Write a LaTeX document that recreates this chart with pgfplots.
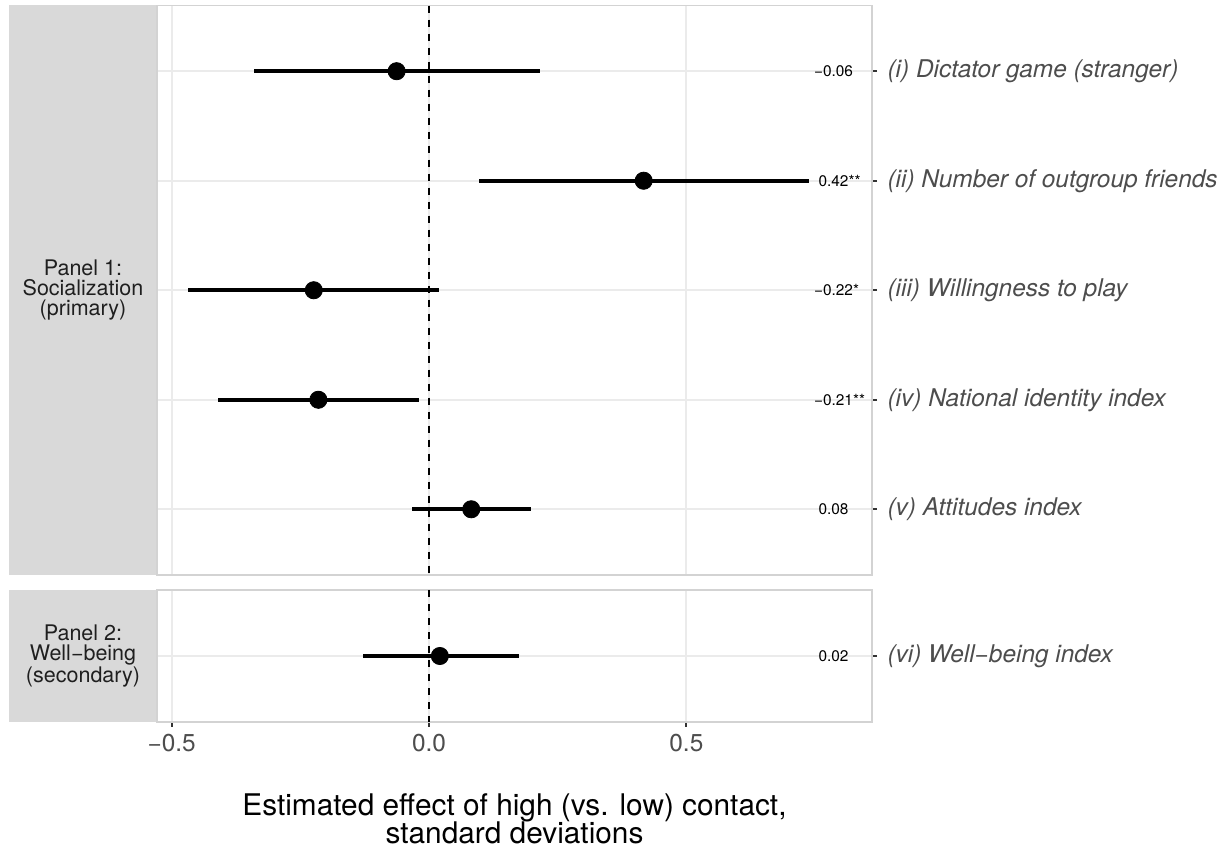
\documentclass[border=0pt]{standalone}
\usepackage{fontspec}
\setmainfont{TeX Gyre Heros}
\usepackage{pgfplots}
\usepackage{pgfplotstable}
\pgfplotsset{compat=1.18}
\definecolor{gridc}{HTML}{EBEBEB}
\definecolor{borderc}{HTML}{D3D3D3}
\definecolor{stripc}{HTML}{D9D9D9}
\definecolor{labc}{HTML}{4D4D4D}
\definecolor{tickc}{HTML}{333333}

\pgfplotstableread{
y est lo hi
1 -0.063 -0.340 0.216
2 0.417 0.098 0.738
3 -0.224 -0.468 0.020
4 -0.215 -0.411 -0.019
5 0.082 -0.034 0.198
}\panelone
\pgfplotstableread{
y est lo hi
1 0.021 -0.129 0.174
}\paneltwo

\pgfplotsset{
  panel/.style={
    scale only axis, width=357.5pt,
    xmin=-0.5286, xmax=0.8607,
    y dir=reverse,
    axis line style={draw=borderc, line width=0.9pt},
    xmajorgrids, ymajorgrids,
    major grid style={draw=gridc, line width=1pt},
    xtick={-0.5,0,0.5},
    ytick pos=right, yticklabel pos=right,
    tick align=outside,
    major tick length=2.6pt,
    major tick style={draw=tickc, line width=1pt},
    yticklabel style={font=\fontsize{12.2}{14}\selectfont\itshape, text=labc, anchor=west, inner sep=0pt, xshift=5pt},
    clip=false,
  },
  ci/.style={draw=none, mark=*, mark size=4.3pt, mark options={fill=black, draw=black},
    error bars/.cd, x dir=both, x explicit, error mark=none,
    error bar style={line width=2pt, black}},
}

\newcommand{\vl}[1]{{\fontsize{7.7}{9}\selectfont #1}}

\begin{document}
\begin{tikzpicture}
\path[use as bounding box] (0,0) rectangle (614pt,429pt);
% strips
\fill[stripc] (4.5pt,426.25pt) rectangle (78.5pt,141.5pt);
\fill[stripc] (4.5pt,133.85pt) rectangle (78.5pt,68.15pt);
\node[align=center, font=\fontsize{10.75}{10}\selectfont, text=black!88] at (41.5pt,284pt) {Panel 1:\\Socialization\\(primary)};
\node[align=center, font=\fontsize{10.75}{10}\selectfont, text=black!88] at (41.5pt,101pt) {Panel 2:\\Well−being\\(secondary)};

\begin{axis}[panel, at={(78.5pt,426.25pt)}, anchor=north west, height=284.75pt,
  ymin=0.4, ymax=5.6,
  xticklabels={}, major x tick style={draw=none},
  ytick={1,2,3,4,5},
  yticklabels={(i) Dictator game (stranger),(ii) Number of outgroup friends,(iii) Willingness to play,(iv) National identity index,(v) Attitudes index}]
\addplot[black, line width=1pt, dash pattern=on 3.5pt off 3.5pt] coordinates {(0,0.4) (0,5.6)};
\addplot[ci] table[x=est, y=y, x error plus expr=\thisrow{hi}-\thisrow{est}, x error minus expr=\thisrow{est}-\thisrow{lo}] {\panelone};
\node at (axis cs:0.786,1) {\vl{−0.06}};
\node at (axis cs:0.786,2) {\vl{0.42\rlap{**}}};
\node at (axis cs:0.786,3) {\vl{−0.22\rlap{*}}};
\node at (axis cs:0.786,4) {\vl{−0.21\rlap{**}}};
\node at (axis cs:0.786,5) {\vl{0.08}};
\end{axis}

\begin{axis}[panel, at={(78.5pt,133.85pt)}, anchor=north west, height=65.7pt,
  ymin=0.4, ymax=1.6,
  xtick pos=bottom,
  xticklabels={−0.5,0.0,0.5},
  xticklabel style={font=\fontsize{12.2}{14}\selectfont, text=labc},
  ytick={1},
  yticklabels={(vi) Well−being index}]
\addplot[black, line width=1pt, dash pattern=on 3.5pt off 3.5pt] coordinates {(0,0.4) (0,1.6)};
\addplot[ci] table[x=est, y=y, x error plus expr=\thisrow{hi}-\thisrow{est}, x error minus expr=\thisrow{est}-\thisrow{lo}] {\paneltwo};
\node at (axis cs:0.786,1) {\vl{0.02}};
\end{axis}

\node[anchor=base, font=\fontsize{14.9}{16}\selectfont] at (257.25pt,21pt) {Estimated effect of high (vs. low) contact,};
\node[anchor=base, font=\fontsize{14.9}{16}\selectfont] at (257.25pt,7.5pt) {standard deviations};
\end{tikzpicture}
\end{document}
